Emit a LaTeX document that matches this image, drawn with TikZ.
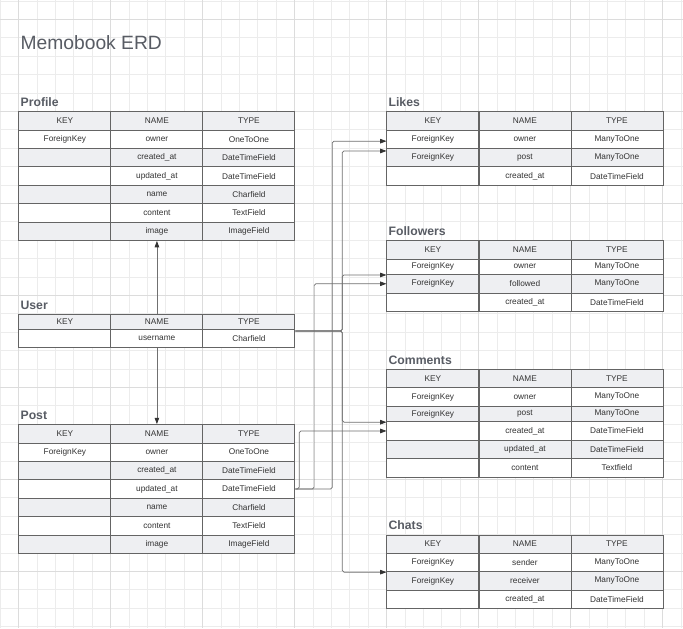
\documentclass[tikz,border=0pt]{standalone}
\usepackage{fontspec}
\newfontfamily\erdfont{Liberation Sans}
\usetikzlibrary{arrows.meta, calc}

\definecolor{erdline}{RGB}{100,100,100}
\definecolor{erdfill}{RGB}{238,239,242}
\definecolor{erdtext}{RGB}{51,51,51}
\definecolor{titletext}{RGB}{88,92,100}
\definecolor{linkcol}{RGB}{112,112,112}
\definecolor{gridminor}{RGB}{236,236,236}
\definecolor{gridmajor}{RGB}{220,220,220}

\tikzset{
  cell/.style={draw=erdline, line width=0.6pt, anchor=north west, minimum width=2.3cm,
    inner sep=0pt, text=erdtext, font=\erdfont\fontsize{5.9}{7}\selectfont},
  tabletitle/.style={anchor=base west, inner sep=0pt, text=titletext,
    font=\erdfont\bfseries\fontsize{8.7}{10}\selectfont},
  link/.style={draw=linkcol, line width=0.5pt, rounded corners=1.2pt,
    -{Triangle[length=4.5pt, width=3.2pt, color=erdtext]}},
}

\begin{document}
\begin{tikzpicture}[x=0.46cm, y=-0.46cm]
  \fill[white] (-1.005,-1.049) rectangle (36.114,33.082);
  \useasboundingbox (-1.005,-1.049) rectangle (36.114,33.082);

  % background grid
  \foreach \i in {-1,...,36} \draw[gridminor, line width=0.5pt] (\i,-1.1) -- (\i,33.1);
  \foreach \j in {-1,...,33} \draw[gridminor, line width=0.5pt] (-1.1,\j) -- (36.2,\j);
  \foreach \i in {0,5,...,35} \draw[gridmajor, line width=0.6pt] (\i,-1.1) -- (\i,33.1);
  \foreach \j in {0,5,...,30} \draw[gridmajor, line width=0.6pt] (-1.1,\j) -- (36.2,\j);

  \node[anchor=base west, inner sep=0pt, text=titletext, font=\erdfont\fontsize{13.7}{16}\selectfont]
    (erd-title) at (0.1,1.63) {Memobook ERD};

  % Profile
  \node[tabletitle] (profile) at (0.1,4.75) {Profile};
  \foreach \ytop/\h/\ky/\nm/\ty [count=\r from 0] in {
      5/1/KEY/NAME/TYPE, 6/1/ForeignKey/owner/OneToOne, 7/1//created\_at/DateTimeField,
      8/1//updated\_at/DateTimeField, 9/1//name/Charfield, 10/1//content/TextField,
      11/1//image/ImageField}{
    \pgfmathtruncatemacro\pc{100*(1-mod(\r,2))}
    \node[cell, fill=erdfill!\pc!white, minimum height=\h*0.46cm] (profile-\r-1) at (0,\ytop) {\ky};
    \node[cell, fill=erdfill!\pc!white, minimum height=\h*0.46cm] (profile-\r-2) at (5,\ytop) {\nm};
    \node[cell, fill=erdfill!\pc!white, minimum height=\h*0.46cm] (profile-\r-3) at (10,\ytop) {\ty};
  }

  % User
  \node[tabletitle] (user) at (0.1,15.75) {User};
  \foreach \ytop/\h/\ky/\nm/\ty [count=\r from 0] in {
      16/0.83/KEY/NAME/TYPE, 16.83/1//username/Charfield}{
    \pgfmathtruncatemacro\pc{100*(1-mod(\r,2))}
    \node[cell, fill=erdfill!\pc!white, minimum height=\h*0.46cm] (user-\r-1) at (0,\ytop) {\ky};
    \node[cell, fill=erdfill!\pc!white, minimum height=\h*0.46cm] (user-\r-2) at (5,\ytop) {\nm};
    \node[cell, fill=erdfill!\pc!white, minimum height=\h*0.46cm] (user-\r-3) at (10,\ytop) {\ty};
  }

  % Post
  \node[tabletitle] (post) at (0.1,21.75) {Post};
  \foreach \ytop/\h/\ky/\nm/\ty [count=\r from 0] in {
      22/1/KEY/NAME/TYPE, 23/1/ForeignKey/owner/OneToOne, 24/1//created\_at/DateTimeField,
      25/1//updated\_at/DateTimeField, 26/1//name/Charfield, 27/1//content/TextField,
      28/1//image/ImageField}{
    \pgfmathtruncatemacro\pc{100*(1-mod(\r,2))}
    \node[cell, fill=erdfill!\pc!white, minimum height=\h*0.46cm] (post-\r-1) at (0,\ytop) {\ky};
    \node[cell, fill=erdfill!\pc!white, minimum height=\h*0.46cm] (post-\r-2) at (5,\ytop) {\nm};
    \node[cell, fill=erdfill!\pc!white, minimum height=\h*0.46cm] (post-\r-3) at (10,\ytop) {\ty};
  }

  % Likes
  \node[tabletitle] (likes) at (20.1,4.75) {Likes};
  \foreach \ytop/\h/\ky/\nm/\ty [count=\r from 0] in {
      5/1/KEY/NAME/TYPE, 6/1/ForeignKey/owner/ManyToOne, 7/1/ForeignKey/post/ManyToOne,
      8/1//created\_at/DateTimeField}{
    \pgfmathtruncatemacro\pc{100*(1-mod(\r,2))}
    \node[cell, fill=erdfill!\pc!white, minimum height=\h*0.46cm] (likes-\r-1) at (20,\ytop) {\ky};
    \node[cell, fill=erdfill!\pc!white, minimum height=\h*0.46cm] (likes-\r-2) at (25,\ytop) {\nm};
    \node[cell, fill=erdfill!\pc!white, minimum height=\h*0.46cm] (likes-\r-3) at (30,\ytop) {\ty};
  }

  % Followers
  \node[tabletitle] (followers) at (20.1,11.75) {Followers};
  \foreach \ytop/\h/\ky/\nm/\ty [count=\r from 0] in {
      12/1/KEY/NAME/TYPE, 13/0.85/ForeignKey/owner/ManyToOne, 13.85/1/ForeignKey/followed/ManyToOne,
      14.85/1//created\_at/DateTimeField}{
    \pgfmathtruncatemacro\pc{100*(1-mod(\r,2))}
    \node[cell, fill=erdfill!\pc!white, minimum height=\h*0.46cm] (followers-\r-1) at (20,\ytop) {\ky};
    \node[cell, fill=erdfill!\pc!white, minimum height=\h*0.46cm] (followers-\r-2) at (25,\ytop) {\nm};
    \node[cell, fill=erdfill!\pc!white, minimum height=\h*0.46cm] (followers-\r-3) at (30,\ytop) {\ty};
  }

  % Comments
  \node[tabletitle] (comments) at (20.1,18.75) {Comments};
  \foreach \ytop/\h/\ky/\nm/\ty [count=\r from 0] in {
      19/1/KEY/NAME/TYPE, 20/1/ForeignKey/owner/ManyToOne, 21/0.85/ForeignKey/post/ManyToOne,
      21.85/1//created\_at/DateTimeField, 22.85/1//updated\_at/DateTimeField,
      23.85/1//content/Textfield}{
    \pgfmathtruncatemacro\pc{100*(1-mod(\r,2))}
    \node[cell, fill=erdfill!\pc!white, minimum height=\h*0.46cm] (comments-\r-1) at (20,\ytop) {\ky};
    \node[cell, fill=erdfill!\pc!white, minimum height=\h*0.46cm] (comments-\r-2) at (25,\ytop) {\nm};
    \node[cell, fill=erdfill!\pc!white, minimum height=\h*0.46cm] (comments-\r-3) at (30,\ytop) {\ty};
  }

  % Chats
  \node[tabletitle] (chats) at (20.1,27.75) {Chats};
  \foreach \ytop/\h/\ky/\nm/\ty [count=\r from 0] in {
      28/1/KEY/NAME/TYPE, 29/1/ForeignKey/sender/ManyToOne, 30/1/ForeignKey/receiver/ManyToOne,
      31/1//created\_at/DateTimeField}{
    \pgfmathtruncatemacro\pc{100*(1-mod(\r,2))}
    \node[cell, fill=erdfill!\pc!white, minimum height=\h*0.46cm] (chats-\r-1) at (20,\ytop) {\ky};
    \node[cell, fill=erdfill!\pc!white, minimum height=\h*0.46cm] (chats-\r-2) at (25,\ytop) {\nm};
    \node[cell, fill=erdfill!\pc!white, minimum height=\h*0.46cm] (chats-\r-3) at (30,\ytop) {\ty};
  }

  % links
  \draw[link] (user-0-2.north) -- (profile-6-2.south);
  \draw[link] (user-1-2.south) -- (post-0-2.north);

  \coordinate (user-out) at ($(user-0-3.north east)!.5!(user-1-3.south east)$);
  \draw[link] (user-out) -- ++(2.55,0) |- ($(likes-1-1.south west)+(0,0.11)$);
  \draw[link] (user-out) -- ++(2.55,0) |- (followers-1-1.south west);
  \draw[link] (user-out) -- ++(2.55,0) |- (comments-2-1.south west);
  \draw[link] (user-out) -- ++(2.55,0) |- (chats-1-1.south west);

  \draw[link] (post-3-3.east) -- ++(0.21,0) |- (comments-3-1.west);
  \draw[link] (post-3-3.east) -- ++(1.02,0) |- (followers-2-1.west);
  \draw[link] (post-3-3.east) -- ++(2.01,0) |- ($(likes-1-1.west)+(0,0.1)$);
\end{tikzpicture}
\end{document}
